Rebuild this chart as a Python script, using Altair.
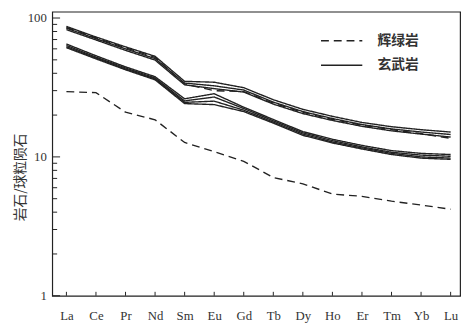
import altair as alt
import pandas as pd

elements = ["La", "Ce", "Pr", "Nd", "Sm", "Eu", "Gd", "Tb", "Dy", "Ho", "Er", "Tm", "Yb", "Lu"]

# 辉绿岩 (diabase) samples - dashed
diabase_1 = [29.5, 29.0, 21.0, 18.5, 12.7, 10.9, 9.3, 7.1, 6.4, 5.4, 5.2, 4.8, 4.5, 4.2]
diabase_2 = [85.5, 72, 61, 52, 33.5, 30, 29.5, 24.4, 20.9, 18.6, 16.9, 15.7, 14.7, 13.6]

# 玄武岩 (basalt) samples - solid
basalt_u1 = [87, 73, 62, 53, 35, 34.5, 31.5, 25.8, 22, 19.6, 17.7, 16.5, 15.7, 15.1]
basalt_u2 = [84.5, 71, 60, 51, 34, 32.5, 30.3, 24.8, 21.2, 18.9, 17.1, 15.9, 15.1, 14.5]
basalt_u3 = [82.5, 69.5, 58.5, 49.8, 33, 31, 29.3, 24, 20.5, 18.3, 16.6, 15.4, 14.6, 13.9]
basalt_l1 = [65, 53.5, 44.5, 37.8, 26.2, 28.5, 22.8, 18.6, 15.2, 13.4, 12.1, 11.1, 10.6, 10.4]
basalt_l2 = [63.5, 52.3, 43.7, 37, 25.3, 27, 22.3, 18.2, 14.9, 13.1, 11.8, 10.8, 10.3, 10.1]
basalt_l3 = [62.2, 51.5, 43, 36.4, 24.7, 25.2, 21.7, 17.8, 14.6, 12.8, 11.6, 10.6, 10.0, 9.8]
basalt_l4 = [61.2, 50.8, 42.4, 35.9, 24.2, 23.8, 21.2, 17.5, 14.3, 12.6, 11.4, 10.4, 9.8, 9.6]

rock_names = ["辉绿岩", "玄武岩"]

major_ticks = [1, 10, 100]
minor_ticks = [2, 3, 4, 5, 6, 7, 8, 9, 20, 30, 40, 50, 60, 70, 80, 90]

samples = [
    ("d1", rock_names[0], diabase_1),
    ("d2", rock_names[0], diabase_2),
    ("u1", rock_names[1], basalt_u1),
    ("u2", rock_names[1], basalt_u2),
    ("u3", rock_names[1], basalt_u3),
    ("l1", rock_names[1], basalt_l1),
    ("l2", rock_names[1], basalt_l2),
    ("l3", rock_names[1], basalt_l3),
    ("l4", rock_names[1], basalt_l4),
]
rows = []
for sid, rock, vals in samples:
    for e, v in zip(elements, vals):
        rows.append({"sample": sid, "rock": rock, "element": e, "value": v})
df = pd.DataFrame(rows)

df_major = pd.DataFrame({"value": major_ticks})
df_minor = pd.DataFrame({"value": minor_ticks})
df_xticks = pd.DataFrame({"element": elements})

serif = "Liberation Serif"
cjk = "Noto Sans CJK SC"
ink = "#222222"

xscale = alt.Scale(type="point", domain=elements, padding=0.4, align=0.6)
yscale = alt.Scale(type="log", domain=[1, 111], nice=False)

xaxis = alt.Axis(title=None, ticks=False, domain=False, grid=False, labelAngle=0,
                 labelFont=serif, labelFontSize=13, labelColor="#333333", labelPadding=14)
yaxis = alt.Axis(title="岩石/球粒陨石", values=major_ticks, format=".0f", ticks=False,
                 domain=False, grid=False, labelFont=serif, labelFontSize=13,
                 labelColor="#333333", labelPadding=6,
                 titleFont=cjk, titleFontSize=14, titleFontWeight="normal",
                 titleColor="#333333", titleX=-32, titleY=168, titleAngle=270,
                 titleAlign="center", titleBaseline="middle")

X = alt.X("element:O", scale=xscale, axis=xaxis, sort=elements)
Y = alt.Y("value:Q", scale=yscale, axis=yaxis)

lines = alt.Chart(df).mark_line(color=ink, strokeWidth=1.4).encode(
    x=X,
    y=Y,
    detail="sample:N",
    strokeDash=alt.StrokeDash(
        "rock:N",
        scale=alt.Scale(domain=rock_names, range=[[8, 5], [1, 0]]),
        legend=alt.Legend(
            title=None, orient="none", legendX=283, legendY=18,
            symbolType="M-2,0L2,0", symbolSize=441, symbolStrokeWidth=1.5,
            symbolStrokeColor=ink, symbolFillColor="transparent",
            labelFont=cjk, labelFontSize=14,
            labelFontWeight="bold", labelColor="#333333", labelOffset=25,
            rowPadding=6,
        ),
    ),
)

major = alt.Chart(df_major).mark_rule(color=ink, strokeWidth=1).encode(
    y=Y, x=alt.value(0), x2=alt.value(8)
)
minor = alt.Chart(df_minor).mark_rule(color=ink, strokeWidth=1).encode(
    y=Y, x=alt.value(0), x2=alt.value(5)
)
xticks = alt.Chart(df_xticks).mark_rule(color=ink, strokeWidth=1).encode(
    x=X, y=alt.value(289), y2=alt.value(285)
)

chart = alt.layer(lines, major, minor, xticks).properties(
    width=415, height=289,
    autosize=alt.AutoSizeParams(type="none"),
    padding={"left": 45, "top": 1, "right": 5, "bottom": 30},
    background="white",
).configure_view(stroke=ink, strokeWidth=1.2)

chart.save("out.html", embed_options={"renderer": "svg", "actions": False})
